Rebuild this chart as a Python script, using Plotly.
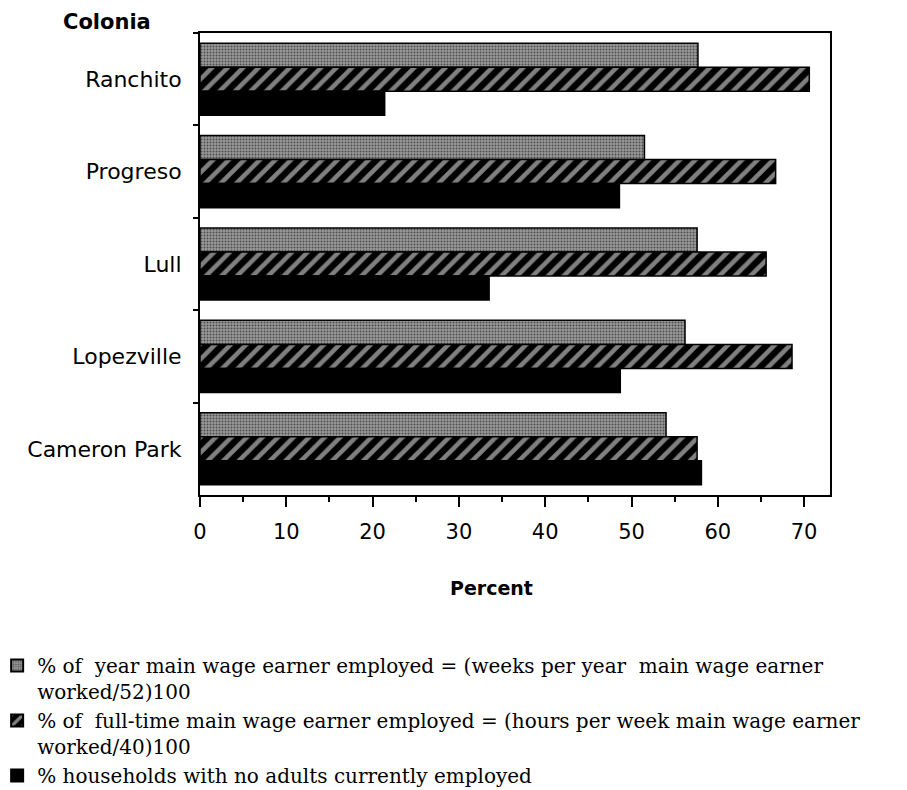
import plotly.graph_objects as go

colonias = ["Ranchito", "Progreso", "Lull", "Lopezville", "Cameron Park"]
pct_year = [57.7, 51.5, 57.6, 56.2, 54.0]
pct_fulltime = [70.6, 66.7, 65.6, 68.6, 57.6]
pct_no_adults = [21.4, 48.6, 33.5, 48.7, 58.1]

names = [
    "% of  year main wage earner employed = (weeks per year  main wage earner<br>worked/52)100",
    "% of  full-time main wage earner employed = (hours per week main wage earner<br>worked/40)100",
    "% households with no adults currently employed",
]

x_ticks = [0, 10, 20, 30, 40, 50, 60, 70]

fig = go.Figure()
fig.add_trace(go.Bar(
    y=colonias, x=pct_year, orientation="h", name=names[0], legendgroup="a",
    marker=dict(color="#8a8a8a", line=dict(color="black", width=1.5),
                pattern=dict(shape=".", fgcolor="black", bgcolor="#9a9a9a", size=3, solidity=0.35)),
))
fig.add_trace(go.Bar(
    y=colonias, x=pct_fulltime, orientation="h", name=names[1], legendgroup="b",
    marker=dict(color="black", line=dict(color="black", width=1.5),
                pattern=dict(shape="/", fgcolor="white", bgcolor="black", size=11, solidity=0.42)),
))
fig.add_trace(go.Bar(
    y=colonias, x=pct_no_adults, orientation="h", name=names[2], legendgroup="c",
    marker=dict(color="black", line=dict(color="black", width=1.5)),
))

# plot area in figure pixels: left 192, right 822, top 25, bottom 487
fig.update_layout(
    width=907, height=790,
    paper_bgcolor="white", plot_bgcolor="white",
    barmode="group", bargap=0.22, bargroupgap=0,
    margin=dict(l=192, r=85, t=25, b=303, autoexpand=False),
    font=dict(family="DejaVu Sans", color="black"),
    showlegend=True,
    legend=dict(
        x=-0.322, y=-0.327, xanchor="left", yanchor="top",
        font=dict(family="DejaVu Serif", size=20, color="black"),
        valign="top", tracegroupgap=0, itemsizing="constant",
        bgcolor="rgba(0,0,0,0)",
    ),
    annotations=[
        dict(text="Percent", xref="paper", yref="paper", x=(483 - 192) / 630, y=(487 - 580) / 462,
             xanchor="center", yanchor="middle", showarrow=False,
             font=dict(family="DejaVu Sans", size=19, color="black", weight="bold")),
        dict(text="Colonia", xref="paper", yref="paper", x=(99 - 192) / 630, y=(487 - 14) / 462,
             xanchor="center", yanchor="middle", showarrow=False,
             font=dict(family="DejaVu Sans", size=21, color="black", weight="bold")),
    ],
)

fig.update_xaxes(
    range=[0, 73], tickvals=x_ticks, ticks="outside", ticklen=10, tickwidth=2,
    tickcolor="black", showline=True, linecolor="black", linewidth=2, mirror=True,
    showgrid=False, zeroline=False, ticklabelstandoff=7,
    tickfont=dict(family="DejaVu Sans", size=21, color="black"),
    minor=dict(dtick=5, tick0=0, ticks="outside", ticklen=5, tickwidth=2, tickcolor="black", showgrid=False),
)
fig.update_yaxes(
    autorange="reversed", type="category", tickson="boundaries",
    ticks="outside", ticklen=5, tickwidth=2, tickcolor="black",
    showline=True, linecolor="black", linewidth=2, mirror=True,
    showgrid=False, zeroline=False, ticklabelstandoff=12,
    tickfont=dict(family="DejaVu Sans", size=22, color="black"),
)

fig.write_html("out.html")
